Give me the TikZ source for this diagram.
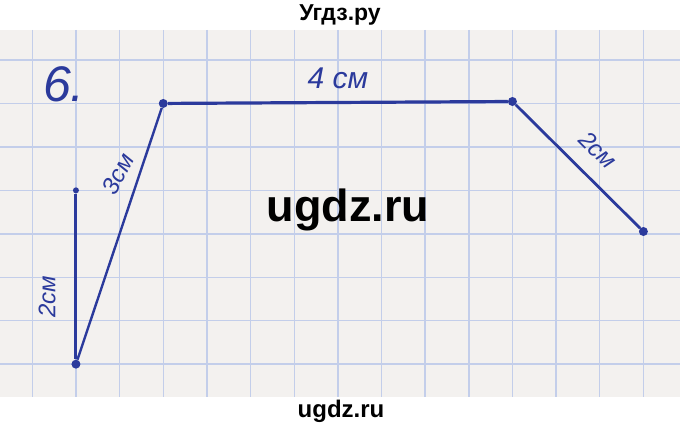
\documentclass[tikz,border=0pt]{standalone}
\usepackage{fontspec}
\setmainfont{Liberation Sans}
\definecolor{ink}{HTML}{2B3A9C}
\definecolor{paper}{HTML}{F3F1EF}
\definecolor{gridblue}{HTML}{C3CEEA}
\tikzset{
  dot/.style={circle, fill=ink, inner sep=0pt, minimum size=9pt},
  hand/.style={text=ink, inner sep=0pt, font=\itshape\fontsize{#1}{#1}\selectfont},
  mark wm/.style={inner sep=0pt, font=\bfseries\fontsize{#1}{#1}\selectfont}
}
\begin{document}
\begin{tikzpicture}[x=1pt,y=-1pt]
\useasboundingbox (0,0) rectangle (680,428);
\fill[white] (0,0) rectangle (680,428);
\fill[paper] (0,30) rectangle (680,397);
\foreach \i in {0,...,14} \draw[gridblue,line width=1.4pt] ({32.3+43.65*\i},30) -- ({32.3+43.65*\i},397);
\foreach \j in {0,...,7} \draw[gridblue,line width=1.4pt] (0,{60+43.45*\j}) -- (680,{60+43.45*\j});

\node[dot] (1) at (75.95,364.15) {};
\node[dot, minimum size=6pt] (2) at (75.95,190.35) {};
\node[dot] (3) at (163.25,103.45) {};
\node[dot] (4) at (512.45,101.5) {};
\node[dot] (5) at (643.4,231.5) {};

\path[draw=ink,line width=3pt] (1) -- (2);
\path[draw=ink,line width=2.4pt] (1) -- (3);
\path[draw=ink,line width=3.2pt] (3) -- (4);
\path[draw=ink,line width=2.8pt] (4) -- (5);

\node[hand=50] (six) at (64,84) {6.};
\node[hand=30] (l34) at (338,78) {4 см};
\node[hand=24, rotate=62] (l13) at (118,174) {3см};
\node[hand=24, rotate=90] (l12) at (47,297) {2см};
\node[hand=24, rotate=-45] (l45) at (598,150) {2см};

\node[mark wm=23] (top) at (340,15) {Угдз.ру};
\node[mark wm=45] (mid) at (348,210) {ugdz.ru};
\node[mark wm=24] (bot) at (341,411) {ugdz.ru};
\end{tikzpicture}
\end{document}
